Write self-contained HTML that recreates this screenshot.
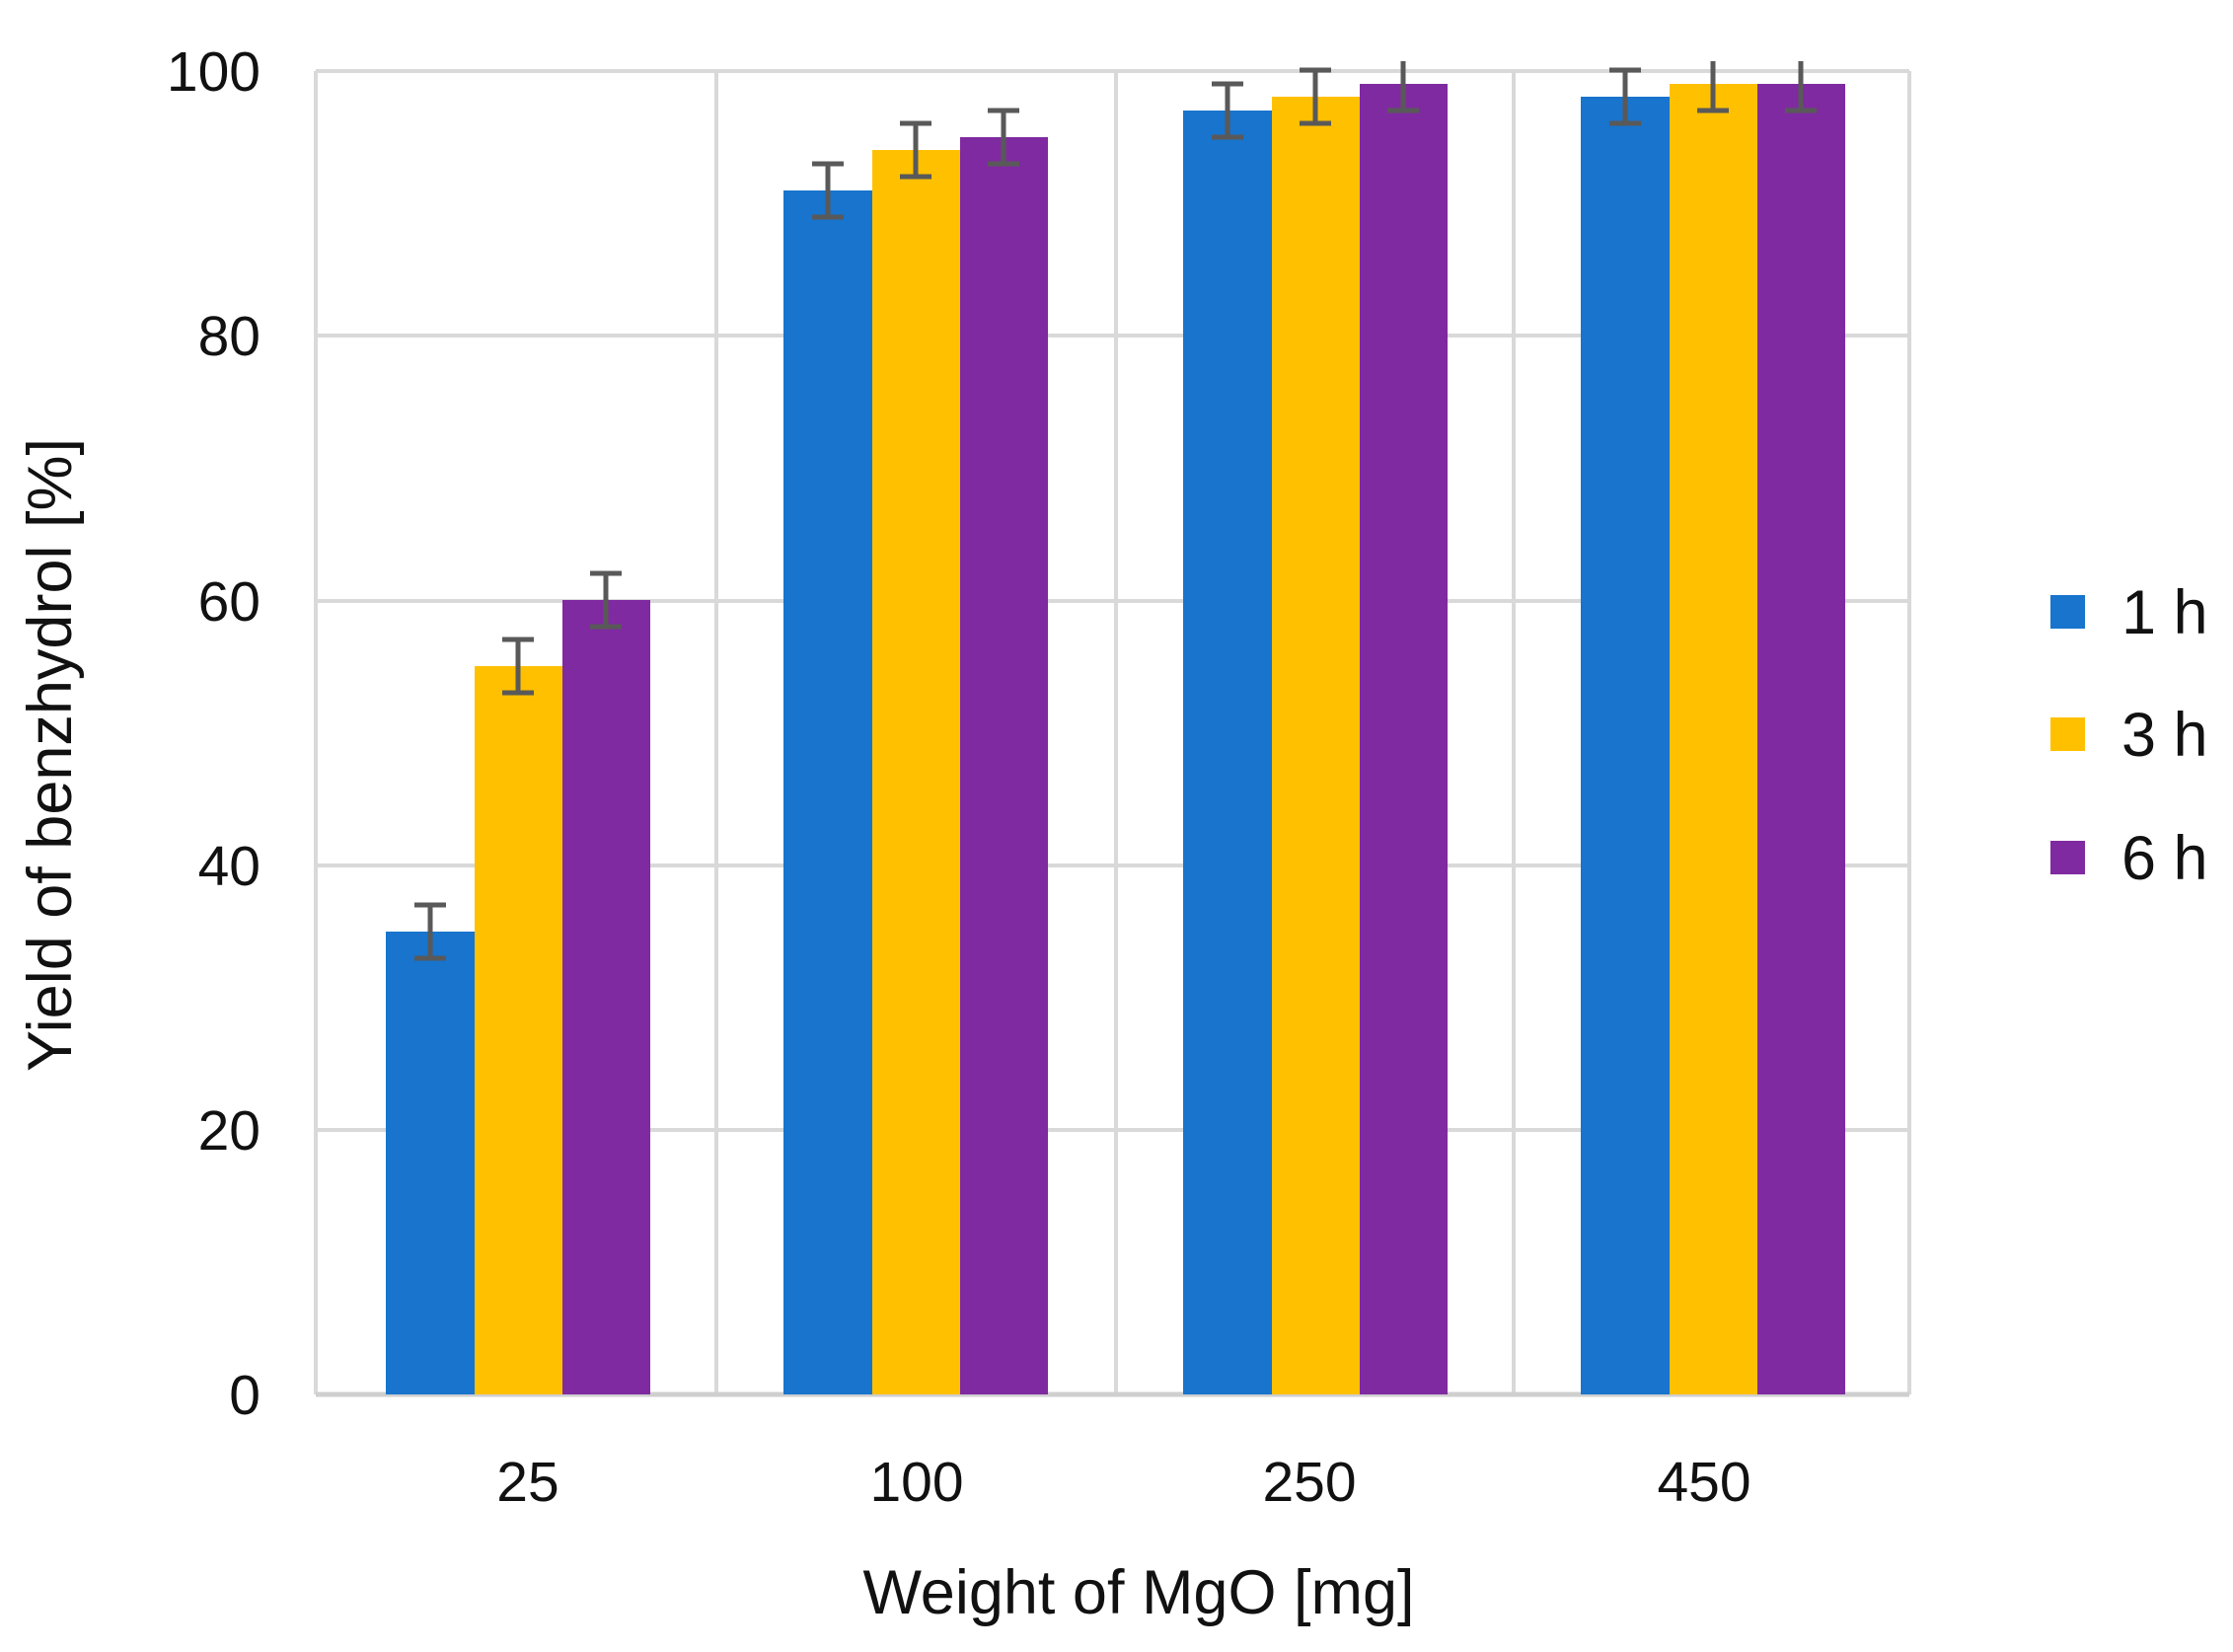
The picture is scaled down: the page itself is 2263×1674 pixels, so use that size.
<!DOCTYPE html>
<html><head><meta charset="utf-8"><style>html,body{margin:0;padding:0;background:#fff}</style></head>
<body>
<svg width="2263" height="1669" viewBox="0 0 2263 1669" xmlns="http://www.w3.org/2000/svg" font-family="'Liberation Sans', sans-serif" fill="#111">
<rect width="2263" height="1669" fill="#fff"/>
<g stroke="#d9d9d9" stroke-width="4" fill="none">
<line x1="320" y1="72" x2="1935" y2="72"/>
<line x1="320" y1="340" x2="1935" y2="340"/>
<line x1="320" y1="609" x2="1935" y2="609"/>
<line x1="320" y1="877" x2="1935" y2="877"/>
<line x1="320" y1="1145" x2="1935" y2="1145"/>
<line x1="320" y1="72" x2="320" y2="1413"/>
<line x1="726" y1="72" x2="726" y2="1413"/>
<line x1="1131" y1="72" x2="1131" y2="1413"/>
<line x1="1534" y1="72" x2="1534" y2="1413"/>
<line x1="1935" y1="72" x2="1935" y2="1413"/>
<line x1="320" y1="1413" x2="1935" y2="1413" stroke="#cfcfcf" stroke-width="5"/>
</g>
<g>
<rect x="391" y="944" width="90" height="469" fill="#1874cd"/>
<rect x="481" y="675" width="89" height="738" fill="#ffc000"/>
<rect x="570" y="608" width="89" height="805" fill="#7f2aa0"/>
<rect x="794" y="193" width="90" height="1220" fill="#1874cd"/>
<rect x="884" y="152" width="89" height="1261" fill="#ffc000"/>
<rect x="973" y="139" width="89" height="1274" fill="#7f2aa0"/>
<rect x="1199" y="112" width="90" height="1301" fill="#1874cd"/>
<rect x="1289" y="98" width="89" height="1315" fill="#ffc000"/>
<rect x="1378" y="85" width="89" height="1328" fill="#7f2aa0"/>
<rect x="1602" y="98" width="90" height="1315" fill="#1874cd"/>
<rect x="1692" y="85" width="89" height="1328" fill="#ffc000"/>
<rect x="1781" y="85" width="89" height="1328" fill="#7f2aa0"/>
</g>
<g stroke="#595959" stroke-width="5" fill="none">
<path d="M436 917v54M420 917h32M420 971h32"/>
<path d="M525 648v54M509 648h32M509 702h32"/>
<path d="M614 581v54M598 581h32M598 635h32"/>
<path d="M839 166v54M823 166h32M823 220h32"/>
<path d="M928 125v54M912 125h32M912 179h32"/>
<path d="M1017 112v54M1001 112h32M1001 166h32"/>
<path d="M1244 85v54M1228 85h32M1228 139h32"/>
<path d="M1333 71v54M1317 71h32M1317 125h32"/>
<path d="M1422 62v50M1406 112h32"/>
<path d="M1647 71v54M1631 71h32M1631 125h32"/>
<path d="M1736 62v50M1720 112h32"/>
<path d="M1825 62v50M1809 112h32"/>
</g>
<g font-size="57" text-anchor="end">
<text x="264" y="92">100</text>
<text x="264" y="360">80</text>
<text x="264" y="629">60</text>
<text x="264" y="897">40</text>
<text x="264" y="1165">20</text>
<text x="264" y="1433">0</text>
</g>
<g font-size="57" text-anchor="middle">
<text x="535" y="1521">25</text>
<text x="929" y="1521">100</text>
<text x="1327" y="1521">250</text>
<text x="1727" y="1521">450</text>
<text x="1154" y="1635" font-size="63">Weight of MgO [mg]</text>
<text transform="translate(72,765) rotate(-90)" font-size="63">Yield of benzhydrol [%]</text>
</g>
<rect x="2078" y="603" width="35" height="34" fill="#1874cd"/>
<rect x="2078" y="727" width="35" height="34" fill="#ffc000"/>
<rect x="2078" y="852" width="35" height="34" fill="#7f2aa0"/>
<g font-size="63">
<text x="2150" y="642">1 h</text>
<text x="2150" y="766">3 h</text>
<text x="2150" y="891">6 h</text>
</g>
</svg>
</body></html>
